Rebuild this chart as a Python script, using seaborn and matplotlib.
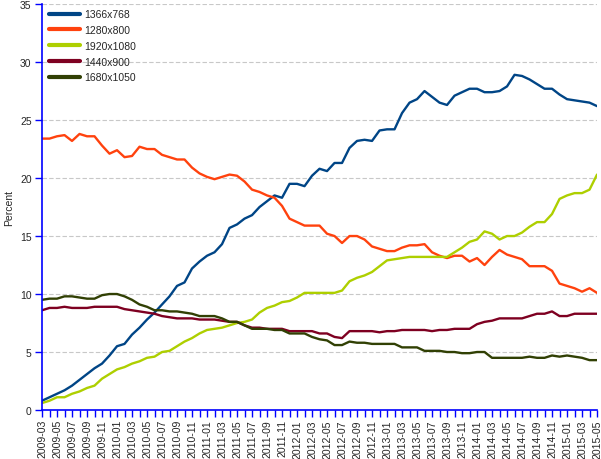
import numpy as np
import pandas as pd
import matplotlib
matplotlib.use("Agg")
import matplotlib.pyplot as plt
import seaborn as sns
from matplotlib.lines import Line2D

months = pd.period_range("2009-03", "2015-05", freq="M").strftime("%Y-%m").tolist()

res_1366x768 = [0.8, 1.1, 1.4, 1.7, 2.1, 2.6, 3.1, 3.6, 4.0, 4.7, 5.5, 5.7, 6.5, 7.1, 7.8, 8.4, 9.1, 9.8, 10.7, 11.0, 12.2, 12.8, 13.3, 13.6, 14.3, 15.7,
                16.0, 16.5, 16.8, 17.5, 18.0, 18.5, 18.3, 19.5, 19.5, 19.3, 20.2, 20.8, 20.6, 21.3, 21.3, 22.6, 23.2, 23.3, 23.2, 24.1, 24.2, 24.2,
                25.6, 26.5, 26.8, 27.5, 27.0, 26.5, 26.3, 27.1, 27.4, 27.7, 27.7, 27.4, 27.4, 27.5, 27.9, 28.9, 28.8, 28.5, 28.1, 27.7, 27.7, 27.2,
                26.8, 26.7, 26.6, 26.5, 26.2]
res_1280x800 = [23.4, 23.4, 23.6, 23.7, 23.2, 23.8, 23.6, 23.6, 22.8, 22.1, 22.4, 21.8, 21.9, 22.7, 22.5, 22.5, 22.0, 21.8, 21.6, 21.6, 20.9, 20.4, 20.1, 19.9, 20.1, 20.3,
                20.2, 19.7, 19.0, 18.8, 18.5, 18.3, 17.6, 16.5, 16.2, 15.9, 15.9, 15.9, 15.2, 15.0, 14.4, 15.0, 15.0, 14.7, 14.1, 13.9, 13.7, 13.7,
                14.0, 14.2, 14.2, 14.3, 13.6, 13.3, 13.1, 13.3, 13.3, 12.8, 13.1, 12.5, 13.2, 13.8, 13.4, 13.2, 13.0, 12.4, 12.4, 12.4, 12.0, 10.9,
                10.7, 10.5, 10.2, 10.5, 10.1]
res_1920x1080 = [0.6, 0.8, 1.1, 1.1, 1.4, 1.6, 1.9, 2.1, 2.7, 3.1, 3.5, 3.7, 4.0, 4.2, 4.5, 4.6, 5.0, 5.1, 5.5, 5.9, 6.2, 6.6, 6.9, 7.0, 7.1, 7.3,
                 7.5, 7.6, 7.8, 8.4, 8.8, 9.0, 9.3, 9.4, 9.7, 10.1, 10.1, 10.1, 10.1, 10.1, 10.3, 11.1, 11.4, 11.6, 11.9, 12.4, 12.9, 13.0,
                 13.1, 13.2, 13.2, 13.2, 13.2, 13.2, 13.2, 13.6, 14.0, 14.5, 14.7, 15.4, 15.2, 14.7, 15.0, 15.0, 15.3, 15.8, 16.2, 16.2, 16.9, 18.2,
                 18.5, 18.7, 18.7, 19.0, 20.3]
res_1440x900 = [8.6, 8.8, 8.8, 8.9, 8.8, 8.8, 8.8, 8.9, 8.9, 8.9, 8.9, 8.7, 8.6, 8.5, 8.4, 8.3, 8.1, 8.0, 7.9, 7.9, 7.9, 7.8, 7.8, 7.8, 7.7, 7.6,
                7.6, 7.3, 7.1, 7.1, 7.0, 7.0, 7.0, 6.8, 6.8, 6.8, 6.8, 6.6, 6.6, 6.3, 6.2, 6.8, 6.8, 6.8, 6.8, 6.7, 6.8, 6.8,
                6.9, 6.9, 6.9, 6.9, 6.8, 6.9, 6.9, 7.0, 7.0, 7.0, 7.4, 7.6, 7.7, 7.9, 7.9, 7.9, 7.9, 8.1, 8.3, 8.3, 8.5, 8.1,
                8.1, 8.3, 8.3, 8.3, 8.3]
res_1680x1050 = [9.5, 9.6, 9.6, 9.8, 9.8, 9.7, 9.6, 9.6, 9.9, 10.0, 10.0, 9.8, 9.5, 9.1, 8.9, 8.6, 8.6, 8.5, 8.5, 8.4, 8.3, 8.1, 8.1, 8.1, 7.9, 7.6,
                 7.6, 7.3, 7.0, 7.0, 7.0, 6.9, 6.9, 6.6, 6.6, 6.6, 6.3, 6.1, 6.0, 5.6, 5.6, 5.9, 5.8, 5.8, 5.7, 5.7, 5.7, 5.7,
                 5.4, 5.4, 5.4, 5.1, 5.1, 5.1, 5.0, 5.0, 4.9, 4.9, 5.0, 5.0, 4.5, 4.5, 4.5, 4.5, 4.5, 4.6, 4.5, 4.5, 4.7, 4.6,
                 4.7, 4.6, 4.5, 4.3, 4.3]

series_names = ["1366x768", "1280x800", "1920x1080", "1440x900", "1680x1050"]
series_values = [res_1366x768, res_1280x800, res_1920x1080, res_1440x900, res_1680x1050]
colors = ["#004586", "#ff420e", "#aecf00", "#7e0021", "#314004"]
y_ticks = [0, 5, 10, 15, 20, 25, 30, 35]

rows = []
for name, vals in zip(series_names, series_values):
    for i, v in enumerate(vals):
        rows.append({"idx": i, "month": months[i], "value": v, "res": name})
df = pd.DataFrame(rows)

sns.set_style("white")
plt.rcParams["font.family"] = ["Liberation Sans", "DejaVu Sans"]

fig = plt.figure(figsize=(6.01, 4.60), dpi=100)
ax = fig.add_axes([0.0699, 0.1065, 0.9235, 0.8825])

sns.lineplot(data=df, x="idx", y="value", hue="res", hue_order=series_names,
             palette=colors, linewidth=1.7, ax=ax, legend=False)

ax.set_xlim(0, len(months) - 1)
ax.set_ylim(0, 35)
ax.set_yticks(y_ticks)
ax.set_yticklabels([str(t) for t in y_ticks], fontsize=7.5)
ax.set_xticks(range(0, len(months), 2))
ax.set_xticklabels(months[::2], rotation=90, fontsize=7.6)
ax.set_xticks(range(len(months)), minor=True)
ax.tick_params(axis="both", which="both", direction="out", color="#0000ff",
               length=5, width=1, left=True, bottom=True)
ax.tick_params(axis="x", which="both", pad=1.5)
ax.tick_params(axis="y", which="both", pad=2.5)
ax.set_xlabel("")
ax.set_ylabel("Percent", fontsize=7.5)
ax.yaxis.set_label_coords(-0.05, 0.5)

for s in ["top", "right"]:
    ax.spines[s].set_visible(False)
for s in ["left", "bottom"]:
    ax.spines[s].set_color("#0000ff")
    ax.spines[s].set_linewidth(1.2)

ax.yaxis.grid(True, linestyle=(0, (4, 2)), color="#c8c8c8", linewidth=0.8)
ax.set_axisbelow(True)

handles = [Line2D([0], [0], color=c, lw=3) for c in colors]
ax.legend(handles, series_names, loc="upper left", bbox_to_anchor=(0.0, 1.005),
          frameon=False, fontsize=7.5, handlelength=2.9, labelspacing=0.55,
          handletextpad=0.45, borderaxespad=0.3)

fig.savefig("out.png", dpi=100)
